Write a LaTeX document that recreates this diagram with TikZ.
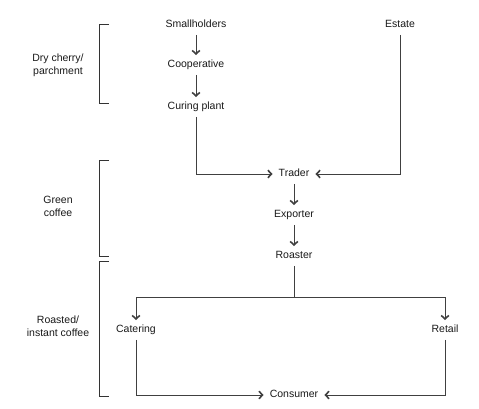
\documentclass[tikz,border=0pt]{standalone}
\usepackage{fontspec}
\setmainfont{Liberation Sans}
\usetikzlibrary{arrows.meta}
\begin{document}
\begin{tikzpicture}[x=1pt,y=-1pt,
  lbl/.style={font=\fontsize{10.5}{12.5}\selectfont, text=black!90, inner xsep=6pt, inner ysep=5pt, text height=7.5pt, text depth=2pt},
  grp/.style={font=\fontsize{10.5}{13}\selectfont, text=black!90, align=center},
  ln/.style={draw=black!75, line width=1pt},
  arr/.style={ln, -{Straight Barb[length=3.5pt,width=7.5pt,line width=1.6pt]}},
  brk/.style={draw=black!80, line width=1pt}]
\useasboundingbox (0,0) rectangle (479,409);
% nodes
\node[lbl] (small) at (196,25) {Smallholders};
\node[lbl] (coop) at (196,65) {Cooperative};
\node[lbl] (curing) at (196,107) {Curing plant};
\node[lbl] (estate) at (400,25) {Estate};
\node[lbl] (trader) at (294,174) {Trader};
\node[lbl] (exporter) at (294,215) {Exporter};
\node[lbl] (roaster) at (294,256) {Roaster};
\node[lbl] (catering) at (136,330) {Catering};
\node[lbl] (retail) at (445,330) {Retail};
\node[lbl] (consumer) at (294,395) {Consumer};
\coordinate (split) at (294,297);
% group labels
\node[grp] (g1) at (58,65) {Dry cherry/\\parchment};
\node[grp] (g2) at (58,206) {Green\\coffee};
\node[grp] (g3) at (58,326) {Roasted/\\instant coffee};
% brackets
\draw[brk] (109,25) -- (99,25) -- (99,104) -- (109,104);
\draw[brk] (109,160) -- (99,160) -- (99,256) -- (109,256);
\draw[brk] (109,261) -- (99,261) -- (99,396) -- (109,396);
% connectors
\draw[arr] (small) -- (coop);
\draw[arr] (coop) -- (curing);
\draw[arr] (curing) |- (trader);
\draw[arr] (estate) |- (trader);
\draw[arr] (trader) -- (exporter);
\draw[arr] (exporter) -- (roaster);
\draw[ln] (roaster) -- (split);
\draw[arr] (split) -| (catering);
\draw[arr] (split) -| (retail);
\draw[arr] (catering) |- (consumer);
\draw[arr] (retail) |- (consumer);
\end{tikzpicture}
\end{document}
